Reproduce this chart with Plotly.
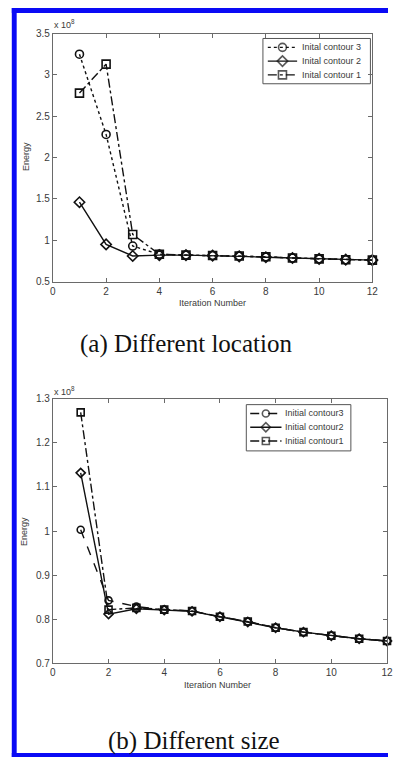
import plotly.graph_objects as go

W, H = 394, 763

# ---- data (energy in units of 1e8) ----
iterations = list(range(1, 13))

loc_names = ["Inital contour 3", "Inital contour 2", "Inital contour 1"]
loc_c3 = [3.25, 2.28, 0.93, 0.83, 0.82, 0.815, 0.81, 0.80, 0.785, 0.775, 0.765, 0.76]
loc_c2 = [1.46, 0.95, 0.81, 0.82, 0.82, 0.815, 0.805, 0.795, 0.785, 0.775, 0.765, 0.76]
loc_c1 = [2.78, 3.13, 1.07, 0.83, 0.82, 0.815, 0.81, 0.80, 0.785, 0.775, 0.765, 0.76]

size_names = ["Initial contour3", "Initial contour2", "Initial contour1"]
size_c3 = [1.003, 0.843, 0.829, 0.822, 0.819, 0.806, 0.795, 0.781, 0.771, 0.763, 0.756, 0.751]
size_c2 = [1.132, 0.812, 0.824, 0.821, 0.818, 0.806, 0.794, 0.781, 0.771, 0.763, 0.756, 0.751]
size_c1 = [1.269, 0.822, 0.826, 0.822, 0.819, 0.806, 0.795, 0.781, 0.771, 0.763, 0.756, 0.751]

x_ticks = [0, 2, 4, 6, 8, 10, 12]
loc_y_ticks = [0.5, 1, 1.5, 2, 2.5, 3, 3.5]
size_y_ticks = [0.7, 0.8, 0.9, 1.0, 1.1, 1.2, 1.3]

SYMBOLS = ["circle-open", "diamond-open", "square-open"]
LOC_DASH = ["dot", "solid", "dashdot"]
SIZE_DASH = ["dash", "solid", "dashdot"]


def px_x(p):
    return p / W


def px_y(p):
    return 1 - p / H


fig = go.Figure()

INK = "#111111"
AX = "#6a6a6a"
TXT = "#3a3a3a"
SANS = "Liberation Sans, Arial, sans-serif"


def add_series(x, y, symbol, dash, xa, ya, msize):
    fig.add_trace(go.Scatter(
        x=x, y=y, mode="lines+markers", showlegend=False,
        xaxis=xa, yaxis=ya, cliponaxis=False,
        line=dict(color=INK, width=1.4, dash=dash),
        marker=dict(symbol=symbol, size=msize, color=INK, line=dict(width=1.6)),
    ))


# (a) different location
for ys, sym, dash in zip([loc_c3, loc_c2, loc_c1], SYMBOLS, LOC_DASH):
    add_series(iterations, ys, sym, dash, "x", "y", 8)

# (b) different size
for ys, sym, dash in zip([size_c3, size_c2, size_c1], SYMBOLS, SIZE_DASH):
    add_series(iterations, ys, sym, dash, "x2", "y2", 7)

axis_common = dict(
    showline=True, linecolor=AX, linewidth=1, mirror="allticks",
    ticks="inside", ticklen=4, tickcolor=AX,
    showgrid=False, zeroline=False,
    tickfont=dict(family=SANS, size=10, color=TXT),
)

fig.update_layout(
    width=W, height=H,
    margin=dict(l=0, r=0, t=0, b=0),
    paper_bgcolor="white", plot_bgcolor="rgba(0,0,0,0)",
    showlegend=False,
    xaxis=dict(domain=[px_x(51), px_x(378)], range=[0, 12], tickvals=x_ticks,
               anchor="y", **axis_common),
    yaxis=dict(domain=[px_y(280), px_y(28)], range=[0.5, 3.5], tickvals=loc_y_ticks,
               anchor="x", **axis_common),
    xaxis2=dict(domain=[px_x(51), px_x(393)], range=[0, 12], tickvals=x_ticks,
                anchor="y2", **axis_common),
    yaxis2=dict(domain=[px_y(668), px_y(399)], range=[0.7, 1.3], tickvals=size_y_ticks,
                anchor="x2", **axis_common),
)

annotations = []


# ---- legend boxes: a framed panel with a small pixel-scaled axis for the key samples ----
def add_key(ax_n, box, names, dashes, line_span, text_x, rows, msize):
    x0, y0, x1, y1 = box
    xa, ya = f"xaxis{ax_n}", f"yaxis{ax_n}"
    hidden = dict(visible=False, showgrid=False, zeroline=False, fixedrange=True)
    fig.update_layout(**{
        xa: dict(domain=[px_x(x0), px_x(x1)], range=[x0, x1], anchor=f"y{ax_n}", **hidden),
        ya: dict(domain=[px_y(y1), px_y(y0)], range=[y1, y0], anchor=f"x{ax_n}", **hidden),
    })
    fig.add_shape(type="rect", xref="paper", yref="paper",
                  x0=px_x(x0), x1=px_x(x1), y0=px_y(y1), y1=px_y(y0),
                  fillcolor="white", line=dict(color="#555555", width=1), layer="below")
    la, lb = line_span
    for name, sym, dash, ry in zip(names, SYMBOLS, dashes, rows):
        fig.add_trace(go.Scatter(
            x=[la, (la + lb) / 2, lb], y=[ry, ry, ry], mode="lines+markers",
            showlegend=False, xaxis=f"x{ax_n}", yaxis=f"y{ax_n}", cliponaxis=False,
            line=dict(color=INK, width=1.4, dash=dash),
            marker=dict(symbol=sym, size=[0, msize, 0], color=INK, line=dict(width=1.6)),
        ))
        annotations.append(dict(text=name, x=px_x(text_x), y=px_y(ry), xanchor="left",
                                font=dict(family=SANS, size=9, color=TXT)))


add_key(3, (266, 33, 376, 79), loc_names, LOC_DASH, (271, 301), 304, [42, 56, 70], 8)
add_key(4, (249, 405, 356, 452), size_names, SIZE_DASH, (253, 285), 287, [414, 428, 442], 7)

label_font = dict(family=SANS, size=9, color=TXT)
cap_font = dict(family="Liberation Serif, Times New Roman, serif", size=25, color="#111111")

annotations += [
    # axis titles
    dict(text="Iteration Number", x=px_x(214), y=px_y(302), font=label_font),
    dict(text="Energy", x=px_x(23), y=px_y(153), textangle=-90, font=label_font),
    dict(text="Iteration Number", x=px_x(220), y=px_y(690), font=label_font),
    dict(text="Energy", x=px_x(21), y=px_y(534), textangle=-90, font=label_font),
    # exponent labels
    dict(text="x 10<sup>8</sup>", x=px_x(50), y=px_y(18), xanchor="left", font=label_font),
    dict(text="x 10<sup>8</sup>", x=px_x(50), y=px_y(391), xanchor="left", font=label_font),
    # captions
    dict(text="(a) Different location", x=px_x(187), y=px_y(343), font=cap_font),
    dict(text="(b) Different size", x=px_x(195), y=px_y(747), font=cap_font),
]
for a in annotations:
    a.update(xref="paper", yref="paper", showarrow=False)
    a.setdefault("xanchor", "center")
    a.setdefault("yanchor", "middle")
fig.update_layout(annotations=annotations)

# blue page frame
BLUE = "#0a0af5"
frame = [
    (9, 2, W, 7),      # top bar
    (9, 2, 14, H),     # left bar
    (9, 759, W, H),    # bottom bar
]
for x0, y0, x1, y1 in frame:
    fig.add_shape(type="rect", xref="paper", yref="paper",
                  x0=px_x(x0), x1=px_x(x1), y0=px_y(y1), y1=px_y(y0),
                  fillcolor=BLUE, line=dict(width=0), layer="above")

fig.write_html("out.html")
